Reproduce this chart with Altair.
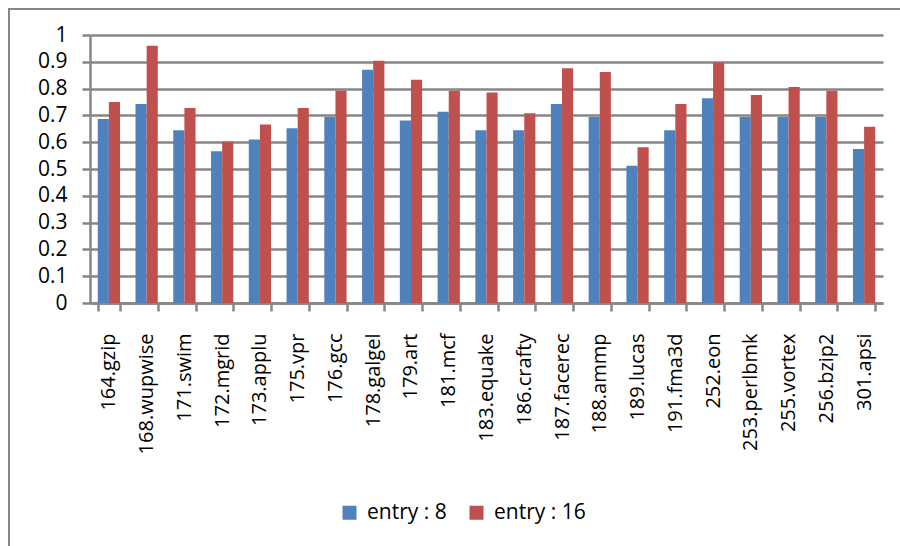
import altair as alt
import pandas as pd

# SPEC CPU2000 benchmarks and the normalised result for two entry counts
benchmarks = [
    "164.gzip", "168.wupwise", "171.swim", "172.mgrid", "173.applu",
    "175.vpr", "176.gcc", "178.galgel", "179.art", "181.mcf",
    "183.equake", "186.crafty", "187.facerec", "188.ammp", "189.lucas",
    "191.fma3d", "252.eon", "253.perlbmk", "255.vortex", "256.bzip2",
    "301.apsi",
]
entry_8 = [
    0.687, 0.743, 0.645, 0.566, 0.610, 0.652, 0.694, 0.870, 0.681, 0.714,
    0.645, 0.645, 0.743, 0.694, 0.512, 0.645, 0.764, 0.694, 0.694, 0.694,
    0.575,
]
entry_16 = [
    0.750, 0.960, 0.728, 0.602, 0.666, 0.728, 0.792, 0.904, 0.833, 0.792,
    0.785, 0.708, 0.876, 0.862, 0.581, 0.743, 0.897, 0.776, 0.806, 0.792,
    0.658,
]
series_names = ["entry : 8", "entry : 16"]
series_colors = ["#4F81BD", "#C0504D"]

rows = []
for name, values in zip(series_names, [entry_8, entry_16]):
    for bench, v in zip(benchmarks, values):
        rows.append({"benchmark": bench, "series": name, "value": v})
df = pd.DataFrame(rows)

FONT = "Open Sans"
GRAY = "#868686"

bars = alt.Chart(df).mark_bar().encode(
    x=alt.X(
        "benchmark:N",
        sort=benchmarks,
        scale=alt.Scale(paddingInner=0.41, paddingOuter=0.205),
        axis=alt.Axis(
            title=None,
            labelAngle=-90,
            labelFontSize=20,
            labelPadding=22,
            tickBand="extent",
            tickSize=8,
            tickWidth=2.5,
            tickColor=GRAY,
            domainColor=GRAY,
            domainWidth=2.5,
            grid=False,
        ),
    ),
    xOffset=alt.XOffset("series:N", sort=series_names,
                        scale=alt.Scale(paddingInner=0, paddingOuter=0)),
    y=alt.Y(
        "value:Q",
        scale=alt.Scale(domain=[0, 1], nice=False),
        axis=alt.Axis(
            title=None,
            values=[i / 10 for i in range(11)],
            format=".1~f",
            labelFontSize=21,
            labelPadding=15,
            tickSize=8,
            tickWidth=2.5,
            tickColor=GRAY,
            domainColor=GRAY,
            domainWidth=2.5,
            grid=True,
            gridColor=GRAY,
            gridWidth=2.5,
            gridOpacity=1,
        ),
    ),
    color=alt.Color(
        "series:N",
        sort=series_names,
        scale=alt.Scale(domain=series_names, range=series_colors),
        legend=alt.Legend(
            title=None,
            orient="none",
            direction="horizontal",
            legendX=249,
            legendY=467,
            symbolType="square",
            symbolSize=196,
            symbolStrokeWidth=0,
            labelFontSize=21,
            labelOffset=7,
            columnPadding=19,
        ),
    ),
)

# outer chart frame: only its top and left edges fall inside the page
frame_data = pd.DataFrame({"k": [0]})
frame_top = alt.Chart(frame_data).mark_rule(stroke=GRAY, strokeWidth=2).encode(
    x=alt.value(-82), x2=alt.value(830), y=alt.value(-26)
)
frame_left = alt.Chart(frame_data).mark_rule(stroke=GRAY, strokeWidth=2).encode(
    x=alt.value(-81), y=alt.value(-27), y2=alt.value(530)
)

chart = alt.layer(frame_top, frame_left, bars).properties(
    width=793,
    height=268,
    autosize=alt.AutoSizeParams(type="none"),
    padding={"left": 90, "top": 35, "right": 17, "bottom": 243},
).configure_view(stroke=None).configure_axis(
    labelFont=FONT, labelColor="#000000"
).configure_legend(
    labelFont=FONT, labelColor="#000000"
)

chart.save("out.html", embed_options={"renderer": "svg", "actions": False})
